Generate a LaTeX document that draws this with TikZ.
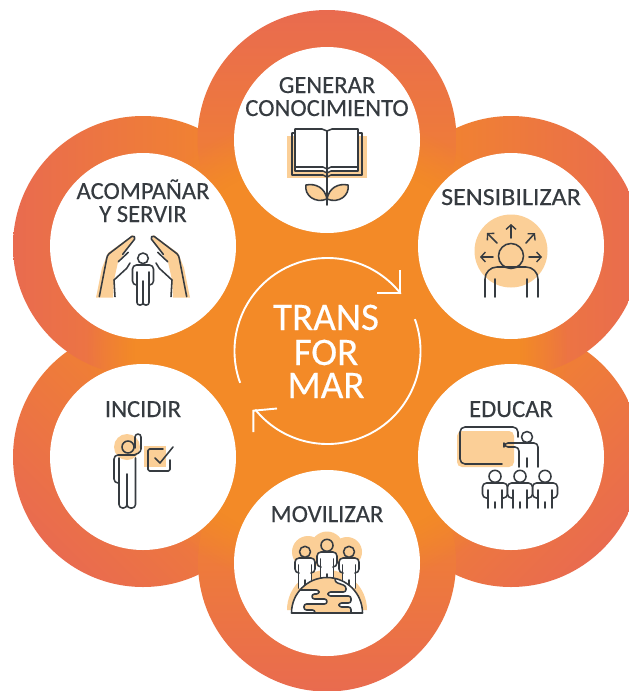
\documentclass[tikz,border=0pt]{standalone}
\usepackage{fontspec}
\setmainfont{Carlito}
\newfontfamily\lblfont[FakeBold=0.35]{Carlito}
\usetikzlibrary{arrows.meta,fadings}
\definecolor{coral}{HTML}{E96B4F}
\definecolor{orangec}{HTML}{F38A27}
\definecolor{ink}{HTML}{363B40}
\definecolor{peach}{HTML}{FBCF97}
\pgfdeclareradialshading{ctrshade}{\pgfpointorigin}{color(0bp)=(pgftransparent!0); color(20bp)=(pgftransparent!0); color(25bp)=(pgftransparent!100); color(50bp)=(pgftransparent!100)}
\pgfdeclarefading{ctrfade}{\pgfuseshading{ctrshade}}
\tikzset{
  whitedisc/.style={circle,fill=white,minimum size=186pt,inner sep=0pt,outer sep=0pt},
  lbl/.style={anchor=base,text=ink,font=\lblfont\fontsize{24.6}{26}\selectfont,inner sep=0pt},
  big/.style={anchor=base,text=white,font=\lblfont\fontsize{39}{40}\selectfont,inner sep=0pt},
  ic/.style={draw=ink,line width=1.55pt,line cap=round,line join=round},
  cyc/.style={draw=white,line width=1.9pt}
}
% x y headr halfwidth inner hook bottom centrestart
\newcommand{\figura}[8]{%
\begin{scope}[shift={(#1,#2)}]
\fill[white,rounded corners=4pt] (-#4,0) rectangle (#4,#6);
\fill[white] (-#5,5) rectangle (#5,#7);
\draw[ic,rounded corners=4pt] (-#5,#6) -- (-#4,#6) -- (-#4,0) -- (#4,0) -- (#4,#6) -- (#5,#6);
\draw[ic] (-#5,7) -- (-#5,#7) (#5,7) -- (#5,#7) (0,#8) -- (0,#7);
\draw[ic] (0,{-#3-0.7}) circle[radius=#3];
\end{scope}}
\newcommand{\manos}{%
\fill[peach] (96,297.7) -- (102,268) -- (108,253) -- (133,235) -- (134,240) -- (118,262) -- (114,280) -- (113,297.7) -- cycle;
\draw[ic,rounded corners=1.5pt] (99.3,296.7) -- (107,257) -- (108,254.5) -- (133,235.5) -- (135.5,238) -- (122.7,254.3);
\draw[ic] (128.3,252.3) -- (118.3,261.7);
\draw[ic] (115,296.7) -- (114,280) -- (126.7,268.3) -- (130,263);}
\begin{document}
\begin{tikzpicture}[x=1pt,y=1pt,yscale=-1]
\path[use as bounding box] (0,0) rectangle (629,691);
\fill[white] (0,0) rectangle (629,691);
\begin{scope}
\clip (0,0) rectangle (629,691);
% rings
\shade[left color=coral,right color=orangec,shading angle=135] (143,457) circle[radius=130];
\shade[left color=coral,right color=orangec,shading angle=-135] (511,457) circle[radius=130];
\shade[left color=coral,right color=orangec] (143,246) circle[radius=130];
\shade[left color=orangec,right color=coral] (511,246) circle[radius=130];
\shade[top color=coral,bottom color=orangec] (327,139.5) circle[radius=129.5];
\shade[top color=orangec,bottom color=coral] (327,562.5) circle[radius=129];
\fill[orangec,path fading=ctrfade] (327,351.5) circle[radius=240];
\end{scope}
\node[whitedisc] (top) at (327,140) {};
\node[whitedisc] (sens) at (511,246) {};
\node[whitedisc] (edu) at (511,457) {};
\node[whitedisc] (mov) at (327,563) {};
\node[whitedisc] (inc) at (143,457) {};
\node[whitedisc] (aco) at (143,246) {};
% centre
\coordinate (cc) at (327.5,351);
\draw[cyc] (cc) ++(-200:93) arc[start angle=-200,end angle=-38,radius=93];
\draw[cyc] (cc) ++(-20:93) arc[start angle=-20,end angle=141,radius=93];
\coordinate (tipa) at (400,293.3);
\coordinate (tipb) at (253.3,410.7);
\draw[cyc] (400,270) -- (tipa) -- (377,293.3);
\draw[cyc] (253.3,432) -- (tipb) -- (277,408.5);
\node[big] (t1) at (326,330) {TRANS};
\node[big] (t2) at (326,365) {FOR};
\node[big] (t3) at (326,398) {MAR};
% labels
\node[lbl] (l1a) at (327,93) {GENERAR};
\node[lbl] (l1b) at (327,116) {CONOCIMIENTO};
\node[lbl] (l2) at (511,205) {\scalebox{1.06}[1]{SENSIBILIZAR}};
\node[lbl] (l3) at (511,417) {EDUCAR};
\node[lbl] (l4) at (327,522) {MOVILIZAR};
\node[lbl] (l5) at (143,417) {INCIDIR};
\node[lbl] (l6a) at (143,199) {ACOMPAÑAR};
\node[lbl] (l6b) at (143,222) {Y SERVIR};
% book
\fill[peach] (287,136) rectangle (367,178);
\fill[white] (295,129) rectangle (358,172);
\draw[ic] (295,133) -- (292,133) -- (292,175) -- (323,175) -- (327,177) -- (331,175) -- (362,175) -- (362,133) -- (358,133);
\draw[ic] (295,167) -- (295,171) -- (323,171) -- (327,173) -- (331,171) -- (358,171) -- (358,167);
\draw[ic] (295,129) -- (322,129) -- (327,131) -- (332,129) -- (358,129) -- (358,167) -- (331,167) -- (327,169) -- (323,167) -- (295,167) -- cycle;
\draw[ic,fill=peach] (327,199) .. controls (325,188) and (316,183) .. (306,185) .. controls (304,195) and (315,204) .. (327,199);
\draw[ic,fill=peach] (327,199) .. controls (329,188) and (338,183) .. (348,185) .. controls (350,195) and (339,204) .. (327,199);
\draw[ic] (327,131) -- (327,205);
% sensibilizar
\fill[peach] (511,251) circle[radius=36.5];
\draw[ic] (511,256) circle[radius=12.5];
\draw[ic,rounded corners=12pt] (485,297) -- (485,267) -- (538,267) -- (538,297);
\draw[ic] (495,279) -- (495,297) (527,279) -- (527,297);
\tikzset{ar/.style={ic,-{Straight Barb[length=4.5pt,width=10pt,line width=1.4pt]}}}
\draw[ar] (511,238) -- (511,224);
\draw[ar] (493,257) -- (480,257);
\draw[ar] (529,257) -- (542,257);
\draw[ar] (497,243) -- (487,233);
\draw[ar] (526,243) -- (535,233);
% educar
\fill[peach,rounded corners=5pt] (457,431) rectangle (514,467);
\draw[ic,rounded corners=5pt] (518,437) -- (518,427) -- (460,427) -- (460,464) -- (502,464);
\draw[ic] (527,437) circle[radius=5.5];
\draw[ic,rounded corners=4pt] (519,467) -- (519,447) -- (504,447) -- (504,443) -- (538,443) -- (538,467);
\draw[ic] (527,458) -- (527,467);
\figura{495}{483}{6}{12.5}{7}{15}{25}{19}
\figura{545}{483}{6}{12.5}{7}{15}{25}{19}
\figura{520}{483}{6}{12.5}{7}{15}{25}{19}
% movilizar
\fill[peach] (308,552) circle[radius=16];
\fill[peach] (327,548) circle[radius=16.5];
\fill[peach] (347,552) circle[radius=15];
\fill[peach] (287,610) arc[start angle=180,end angle=360,radius=40] -- cycle;
\figura{305}{558}{5.5}{10}{6.5}{15}{30}{22}
\figura{349}{558}{5.5}{10}{6.5}{15}{30}{22}
\figura{327}{552}{6}{10}{6.5}{15}{30}{22}
\fill[peach] (291.5,613) arc[start angle=180,end angle=360,radius=35.5] -- cycle;
\begin{scope}
\clip (291.5,613) arc[start angle=180,end angle=360,radius=35.5] -- cycle;
\draw[ic,fill=white,rounded corners=2.5pt] (285,590) -- (319,590) -- (319,594) -- (312,594) -- (312,599) -- (327,599) -- (327,604) -- (304,604) -- (304,610) -- (315,610) -- (315,616) -- (285,616) -- cycle;
\draw[ic,fill=white,rounded corners=2.5pt] (335,577) -- (335,582) -- (346,586) -- (346,592) -- (328,592) -- (328,596) -- (351,596) -- (351,603) -- (339,603) -- (339,607) -- (351,607) -- (351,616) -- (370,616) -- (370,577) -- cycle;
\end{scope}
\draw[ic] (291.5,613) arc[start angle=180,end angle=360,radius=35.5] -- cycle;
% incidir
\fill[peach] (127,447) circle[radius=13];
\draw[ic] (128,447) circle[radius=6];
\draw[ic,rounded corners=4pt] (118,483) -- (114,483) -- (114,455) -- (135,455);
\draw[ic,rounded corners=3.5pt] (119,458) -- (119,508) -- (127,508) -- (127,474);
\draw[ic,rounded corners=3.5pt] (127,500) -- (127,508) -- (135.5,508) -- (135.5,458);
\draw[ic,rounded corners=3pt] (134,455) -- (141,452) -- (141,434) -- (135,434) -- (135,448);
\fill[peach] (144,446) rectangle (166,467);
\draw[ic,rounded corners=1.5pt] (170,460) -- (170,471) -- (148,471) -- (148,449) -- (163,449);
\draw[ic] (155,458) -- (160,463) -- (173,447);
% acompanar
\manos
\begin{scope}[xshift=286pt,xscale=-1]
\manos
\end{scope}
\draw[ic] (143,258.3) circle[radius=5.3];
\draw[ic,rounded corners=4pt] (137,285) -- (132.5,285) -- (132.5,265) -- (153.5,265) -- (153.5,285) -- (149,285);
\draw[ic,rounded corners=2.5pt] (137,272) -- (137,305) -- (143,305) -- (143,281);
\draw[ic,rounded corners=2.5pt] (143,296) -- (143,305) -- (149,305) -- (149,272);
\end{tikzpicture}
\end{document}
